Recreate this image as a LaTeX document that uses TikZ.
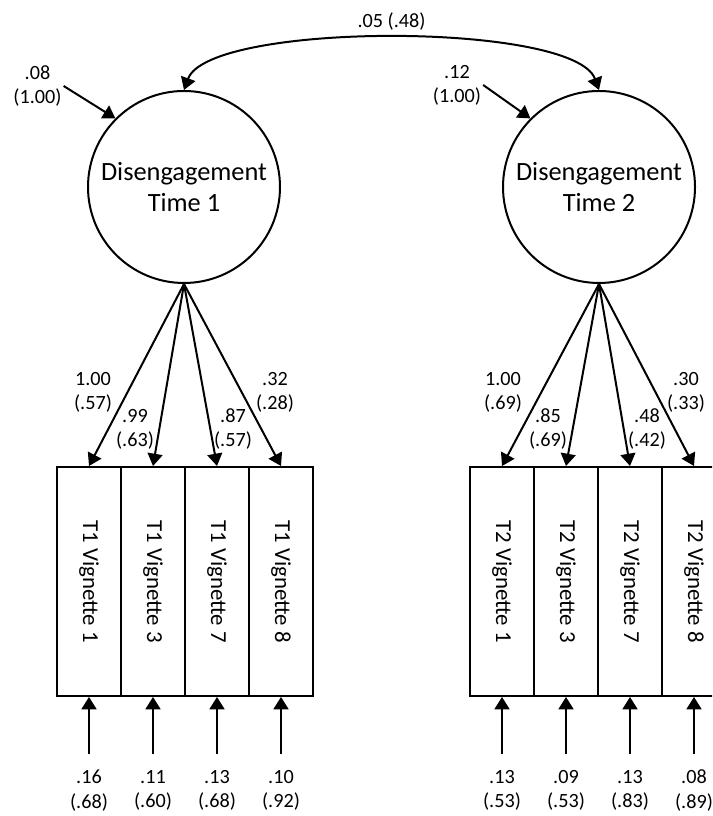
\documentclass[tikz,border=0pt]{standalone}
\usepackage{fontspec}
\setmainfont{Carlito}
\usepackage{graphicx}
\usetikzlibrary{arrows.meta,positioning}

\begin{document}
\begin{tikzpicture}[
        >={Triangle[length=7pt,width=8.5pt]},
        arr/.style={line width=0.04cm, ->},
        latent/.style={draw, circle, line width=0.04cm, minimum size=3.84cm, inner sep=0pt, align=center, font=\fontsize{15}{18}\selectfont},
        ind/.style={draw, rectangle, line width=0.04cm, minimum width=1.28cm, minimum height=4.58cm, inner sep=0pt, font=\fontsize{13}{15}\selectfont},
        lbl/.style={align=center, inner sep=1pt, font=\fontsize{11.5}{13.8}\selectfont}
    ]
        \useasboundingbox (0,0) rectangle (14.24,16.32);
        \clip (0,0) rectangle (14.24,16.32);

        % Латентные факторы
        \node[latent] (c1) at (3.68,12.58) {Disengagement\\Time 1};
        \node[latent] (c2) at (11.98,12.58) {Disengagement\\Time 2};

        % Ковариация
        \draw[line width=0.04cm, <->] (c1.north) to[out=70, in=110, looseness=0.45]
            node[midway, above, yshift=3pt, lbl] (cov) {.05 (.48)} (c2.north);

        % Дисперсии факторов
        \node[lbl] (v1) at (0.75,14.6) {.08\\(1.00)};
        \node[lbl] (v2) at (9.14,14.62) {.12\\(1.00)};
        \draw[arr] (v1.east) -- (c1.135);
        \draw[arr] (v2.east) -- (c2.135);

        % Индикаторы и нагрузки
        \foreach \v [count=\i] in {1,3,7,8} {
            \node[ind] (a\i) at ({0.5+1.28*\i},4.69) {\rotatebox{-90}{T1 Vignette \v}};
            \node[ind] (b\i) at ({8.76+1.28*\i},4.69) {\rotatebox{-90}{T2 Vignette \v}};
            \draw[arr] (c1.south) -- (a\i.north);
            \draw[arr] (c2.south) -- (b\i.north);
        }

        % Подписи нагрузок
        \node[lbl] (la1) at (1.86,8.48)  {1.00\\(.57)};
        \node[lbl] (la2) at (2.70,7.74)  {.99\\(.63)};
        \node[lbl] (la3) at (4.66,7.74)  {.87\\(.57)};
        \node[lbl] (la4) at (5.50,8.48)  {.32\\(.28)};
        \node[lbl] (lb1) at (10.06,8.48) {1.00\\(.69)};
        \node[lbl] (lb2) at (10.96,7.74) {.85\\(.69)};
        \node[lbl] (lb3) at (12.94,7.74) {.48\\(.42)};
        \node[lbl] (lb4) at (13.72,8.48) {.30\\(.33)};

        % Ошибки индикаторов
        \foreach \i/\e/\r in {1/.16/.68, 2/.11/.60, 3/.13/.68, 4/.10/.92} {
            \coordinate (sa\i) at (a\i.south |- 0,1.24);
            \node[lbl, below=8pt of sa\i] (ea\i) {\e\\(\r)};
            \draw[arr] (sa\i) -- (a\i.south);
        }
        \foreach \i/\e/\r in {1/.13/.53, 2/.09/.53, 3/.13/.83, 4/.08/.89} {
            \coordinate (sb\i) at (b\i.south |- 0,1.24);
            \node[lbl, below=8pt of sb\i] (eb\i) {\e\\(\r)};
            \draw[arr] (sb\i) -- (b\i.south);
        }
    \end{tikzpicture}
\end{document}
